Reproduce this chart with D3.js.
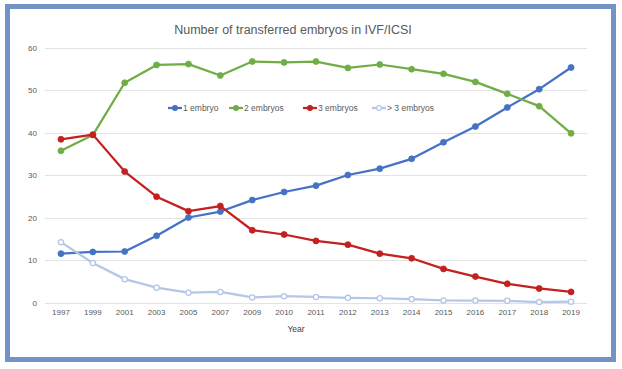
<!DOCTYPE html>
<html>
<head>
<meta charset="utf-8">
<script src="https://cdn.jsdelivr.net/npm/d3@7"></script>
<style>
  html, body { margin: 0; padding: 0; background: #fff; }
  svg { display: block; font-family: "Liberation Sans", "DejaVu Sans", sans-serif; }
</style>
</head>
<body>
<svg id="chart" width="622" height="369"></svg>
<script>
const years = ["1997","1999","2001","2003","2005","2007","2009","2010","2011","2012","2013","2014","2015","2016","2017","2018","2019"];
const oneEmbryo   = [11.5, 11.9, 12.0, 15.7, 20.0, 21.4, 24.1, 26.0, 27.5, 30.0, 31.5, 33.8, 37.7, 41.4, 45.9, 50.2, 55.3];
const twoEmbryos  = [35.7, 39.4, 51.7, 55.9, 56.1, 53.4, 56.7, 56.5, 56.7, 55.2, 56.0, 54.9, 53.8, 51.9, 49.1, 46.2, 39.8];
const threeEmbryos= [38.4, 39.5, 30.8, 24.9, 21.5, 22.7, 17.0, 16.0, 14.5, 13.6, 11.5, 10.4, 7.9, 6.1, 4.4, 3.3, 2.5];
const moreEmbryos = [14.2, 9.3, 5.5, 3.5, 2.3, 2.5, 1.2, 1.5, 1.3, 1.1, 1.0, 0.8, 0.5, 0.45, 0.4, 0.1, 0.2];
const yTicks = [0, 10, 20, 30, 40, 50, 60];
const seriesNames = ["1 embryo", "2 embryos", "3 embryos", "> 3 embryos"];
const seriesColors = ["#4472c4", "#70ad47", "#c42020", "#b4c7e7"];
const titleText = "Number of transferred embryos in IVF/ICSI";
const xTitle = "Year";

const series = [oneEmbryo, twoEmbryos, threeEmbryos, moreEmbryos].map((vals, i) => ({
  name: seriesNames[i], color: seriesColors[i], values: vals, hollow: i === 3
}));

const svg = d3.select("#chart");
// frame
svg.append("rect").attr("x", 7.5).attr("y", 6.5).attr("width", 606).attr("height", 353)
  .attr("fill", "#fff").attr("stroke", "#7393c6").attr("stroke-width", 5);

const mLeft = 45, mRight = 587, mTop = 47.5, mBottom = 302.5;
const x = d3.scaleBand().domain(years).range([mLeft, mRight]);
const y = d3.scaleLinear().domain([0, 60]).range([mBottom, mTop]);

// gridlines
svg.append("g").selectAll("line").data(yTicks).join("line")
  .attr("x1", mLeft).attr("x2", mRight)
  .attr("y1", d => Math.round(y(d)) + 0.5).attr("y2", d => Math.round(y(d)) + 0.5)
  .attr("stroke", "#e3e3e3").attr("stroke-width", 1);

// y axis labels
const yAxis = svg.append("g").attr("transform", `translate(${mLeft},0)`)
  .call(d3.axisLeft(y).tickValues(yTicks).tickSize(0).tickPadding(8));
yAxis.select(".domain").remove();
yAxis.selectAll("text").attr("fill", "#595959").attr("font-size", 8);

// x axis labels
const xAxis = svg.append("g").attr("transform", `translate(0,${mBottom})`)
  .call(d3.axisBottom(x).tickSize(0).tickPadding(7));
xAxis.select(".domain").remove();
xAxis.selectAll("text").attr("fill", "#595959").attr("font-size", 8);

// title
svg.append("text").attr("x", 293).attr("y", 34).attr("text-anchor", "middle")
  .attr("font-size", 12.5).attr("fill", "#595959").text(titleText);
svg.append("text").attr("x", 296).attr("y", 332).attr("text-anchor", "middle")
  .attr("font-size", 8.5).attr("fill", "#404040").text(xTitle);

const cx = (d, i) => x(years[i]) + x.bandwidth() / 2;
const line = d3.line().x((d, i) => cx(d, i)).y(d => y(d));

const g = svg.append("g");
series.forEach(s => {
  g.append("path").datum(s.values).attr("d", line).attr("fill", "none")
    .attr("stroke", s.color).attr("stroke-width", 2.25).attr("stroke-linejoin", "round");
  g.append("g").selectAll("circle").data(s.values).join("circle")
    .attr("cx", (d, i) => cx(d, i)).attr("cy", d => y(d)).attr("r", s.hollow ? 2.6 : 3)
    .attr("fill", s.hollow ? "#fff" : s.color).attr("stroke", s.color).attr("stroke-width", s.hollow ? 1.3 : 0.8);
});

// legend
const legendX = [168, 229, 303, 372];
const leg = svg.append("g");
series.forEach((s, i) => {
  const lx = legendX[i], ly = 108;
  leg.append("line").attr("x1", lx).attr("x2", lx + 14).attr("y1", ly).attr("y2", ly)
    .attr("stroke", s.color).attr("stroke-width", 2.25);
  leg.append("circle").attr("cx", lx + 7).attr("cy", ly).attr("r", s.hollow ? 2.4 : 2.7)
    .attr("fill", s.hollow ? "#fff" : s.color).attr("stroke", s.color).attr("stroke-width", s.hollow ? 1.2 : 0.8);
  leg.append("text").attr("x", lx + 15).attr("y", ly + 3).attr("font-size", 8.5)
    .attr("fill", "#595959").text(s.name);
});
</script>
</body>
</html>
